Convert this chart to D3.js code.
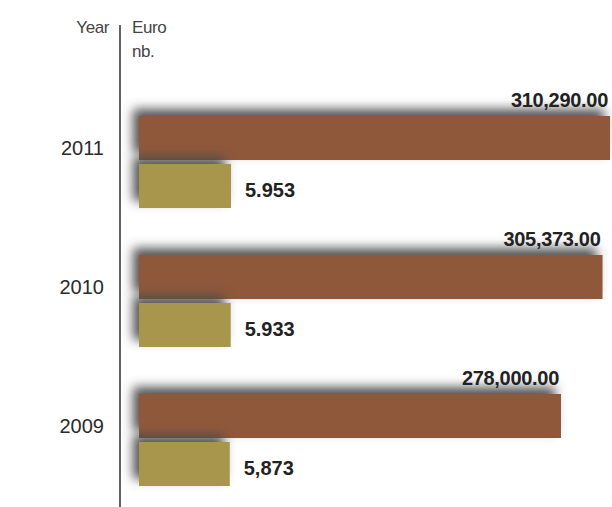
<!DOCTYPE html>
<html>
<head>
<meta charset="utf-8">
<script src="https://cdn.jsdelivr.net/npm/d3@7"></script>
<style>
  html, body { margin: 0; padding: 0; background: #fff; }
  svg { display: block; }
  text { font-family: "Liberation Sans", Arial, Helvetica, sans-serif; }
</style>
</head>
<body>
<div id="chart"></div>
<script>
// Yearly figures: amount in euro and number
const years = ["2011", "2010", "2009"];
const euroValues = [310290.00, 305373.00, 278000.00];
const nbValues = [5953, 5933, 5873];
const nbLabels = ["5.953", "5.933", "5,873"];

const width = 612, height = 507;
const brown = "#8f583b", gold = "#a8964e";

const svg = d3.select("#chart").append("svg")
  .attr("width", width).attr("height", height);

// soft grey shadow cast up and to the left of each bar
const defs = svg.append("defs");
const f = defs.append("filter").attr("id", "shadow")
  .attr("x", "-20%").attr("y", "-80%").attr("width", "140%").attr("height", "240%");
f.append("feGaussianBlur").attr("in", "SourceAlpha").attr("stdDeviation", 5.5).attr("result", "b");
f.append("feOffset").attr("in", "b").attr("dx", -6).attr("dy", -7).attr("result", "o");
f.append("feFlood").attr("flood-color", "#4a4a4a").attr("flood-opacity", 0.95);
f.append("feComposite").attr("in2", "o").attr("operator", "in").attr("result", "s");
const m = f.append("feMerge");
m.append("feMergeNode").attr("in", "s");
m.append("feMergeNode").attr("in", "SourceGraphic");

const x0 = 139;
const xEuro = d3.scaleLinear().domain([0, 310290]).range([x0, 610]);
const xNb = d3.scaleLinear().domain([0, 5953]).range([x0, 231]);
const y = d3.scaleBand().domain(years).range([116, 486]).paddingInner(47 / 139).paddingOuter(0);
const barH = (y.bandwidth() - 4) / 2;

// vertical axis line
svg.append("line")
  .attr("x1", 120).attr("x2", 120).attr("y1", 25).attr("y2", height)
  .attr("stroke", "#3a3a3a").attr("stroke-width", 1.6);

// column headers
const head = svg.append("g").attr("fill", "#444").attr("font-size", 17).attr("letter-spacing", -0.4);
head.append("text").attr("x", 109).attr("y", 33).attr("text-anchor", "end").text("Year");
head.append("text").attr("x", 132).attr("y", 33).text("Euro");
head.append("text").attr("x", 132).attr("y", 57).text("nb.");

const data = years.map((yr, i) => ({ yr, euro: euroValues[i], nb: nbValues[i], nbLabel: nbLabels[i] }));
const fmt = d3.format(",.2f");

const g = svg.selectAll("g.year").data(data).join("g").attr("class", "year");

g.append("rect")
  .attr("x", x0).attr("y", d => y(d.yr))
  .attr("width", d => xEuro(d.euro) - x0).attr("height", barH)
  .attr("fill", brown).attr("filter", "url(#shadow)");

g.append("rect")
  .attr("x", x0).attr("y", d => y(d.yr) + barH + 4)
  .attr("width", d => xNb(d.nb) - x0).attr("height", barH)
  .attr("fill", gold).attr("filter", "url(#shadow)");

// year labels
g.append("text")
  .attr("x", 104).attr("y", d => y(d.yr) + 39)
  .attr("text-anchor", "end").attr("font-size", 20).attr("fill", "#2a2a2a")
  .text(d => d.yr);

// euro value labels above the brown bars
g.append("text")
  .attr("x", d => xEuro(d.euro) - 2).attr("y", d => y(d.yr) - 9)
  .attr("text-anchor", "end").attr("font-size", 20).attr("font-weight", "bold")
  .attr("fill", "#222").attr("letter-spacing", -0.3)
  .text(d => fmt(d.euro));

// number labels beside the gold bars
g.append("text")
  .attr("x", d => xNb(d.nb) + 14).attr("y", d => y(d.yr) + barH + 4 + 33)
  .attr("font-size", 20).attr("font-weight", "bold").attr("fill", "#222")
  .text(d => d.nbLabel);
</script>
</body>
</html>
